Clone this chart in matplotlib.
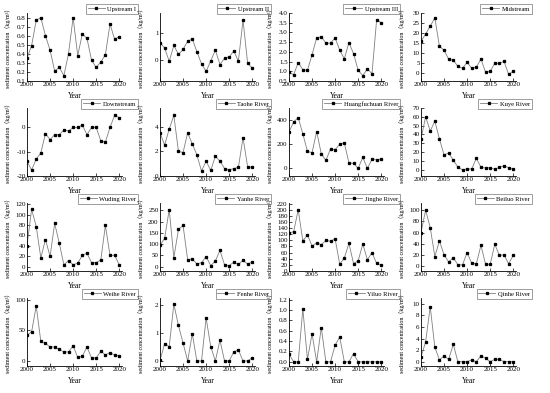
import numpy as np
import matplotlib
matplotlib.use("Agg")
import matplotlib.pyplot as plt
from matplotlib.ticker import FormatStrFormatter

plt.rcParams['font.family'] = ['Liberation Serif', 'Noto Sans CJK SC', 'DejaVu Sans']

years = list(range(2000, 2021))

upstream_1 = [0.35, 0.49, 0.77, 0.80, 0.60, 0.44, 0.21, 0.25, 0.16, 0.40, 0.80,
              0.38, 0.62, 0.57, 0.33, 0.25, 0.31, 0.39, 0.73, 0.56, 0.59]
upstream_2 = [0.65, 0.45, -0.03, 0.55, 0.22, 0.40, 0.70, 0.78, 0.32, -0.12, -0.40,
              -0.02, 0.38, -0.15, 0.08, 0.12, 0.35, -0.03, 1.48, -0.10, -0.28]
upstream_3 = [0.95, 0.82, 1.45, 1.08, 1.05, 1.85, 2.72, 2.78, 2.45, 2.45, 2.72,
              2.08, 1.65, 2.48, 1.90, 1.05, 0.78, 1.12, 0.88, 3.65, 3.50]
midstream = [16, 19.5, 23.5, 27.5, 13.5, 11.5, 7, 6.5, 3.5, 2.5, 5.5,
             2.5, 3, 7.2, 0.5, 1, 5, 5, 6, -0.5, 1]
downstream = [-14, -17.5, -13, -10.5, -2.5, -5, -3, -3, -1, -1.5, 0,
              0, 1, -3, 0, 0, -5.5, -6, 0, 5, 4]
taohe = [3.5, 2.5, 3.8, 4.9, 2.0, 1.9, 3.5, 2.6, 1.7, 0.4, 1.2,
         0.45, 1.6, 1.2, 0.6, 0.5, 0.6, 0.7, 3.1, 0.75, 0.7]
huangfuchuan = [300, 385, 420, 285, 140, 130, 305, 120, 65, 160, 155,
                200, 210, 45, 40, 0, 90, 0, 75, 70, 75]
kuye = [35, 60, 44, 55, 35, 17, 19, 11, 3, 0, 1,
        1, 13, 3, 2, 2.5, 0.5, 3, 4.5, 2.5, 0.5]
wuding = [40, 110, 77, 17, 52, 20, 83, 45, 4, 12, 4,
          7, 22, 26, 8, 8, 13, 79, 22, 22, 4]
yanhe = [95, 125, 253, 40, 165, 183, 30, 35, 12, 18, 45,
         5, 25, 72, 8, 5, 20, 10, 28, 12, 20]
jinghe = [125, 128, 200, 98, 118, 82, 92, 86, 100, 97, 105,
          22, 43, 90, 24, 33, 88, 37, 60, 25, 20]
beiluo = [60, 100, 69, 17, 45, 20, 7, 15, 2, 2, 24,
          5, 4, 37, 3, 3, 39, 19, 20, 4, 19]
weihe = [42, 48, 90, 32, 29, 23, 23, 19, 15, 15, 25,
         6, 8, 23, 5, 5, 16, 10, 14, 10, 8]
fenhe = [0.02, 0.62, 0.52, 2.05, 1.28, 0.65, 0.0, 0.98, 0.0, 0.0, 1.55,
         0.52, 0.0, 0.75, 0.0, 0.0, 0.33, 0.40, 0.0, 0.0, 0.12]
yiluo = [0.15, 0.0, 0.0, 1.02, 0.05, 0.54, 0.0, 0.66, 0.0, 0.0, 0.32,
         0.48, 0.0, 0.0, 0.16, 0.0, 0.0, 0.0, 0.0, 0.0, 0.0]
qinhe = [0.8, 3.4, 9.5, 2.5, 0.3, 1.0, 0.4, 3.0, 0.0, 0.0, 0.0,
         0.3, 0.0, 1.0, 0.6, 0.0, 0.4, 0.4, 0.0, 0.0, 0.0]

names = ['Upstream I', 'Upstream II', 'Upstream III', 'Midstream',
         'Downstream', 'Taohe River', 'Huangfuchuan River', 'Kuye River',
         'Wuding River', 'Yanhe River', 'Jinghe River', 'Beiluo River',
         'Weihe River', 'Fenhe River', 'Yiluo River', 'Qinhe River']
series = [upstream_1, upstream_2, upstream_3, midstream,
          downstream, taohe, huangfuchuan, kuye,
          wuding, yanhe, jinghe, beiluo,
          weihe, fenhe, yiluo, qinhe]

# axis styling per panel: (ylim, yticks, tick format)
styles = [
    ((0.1, 0.85), np.arange(0.1, 0.81, 0.1), '%.1f'),
    ((-0.75, 1.73), [0, 1], '%d'),
    ((0.5, 4.0), np.arange(0.5, 4.01, 0.5), '%.1f'),
    ((-3.8, 30), range(0, 31, 5), '%d'),
    ((-20, 8), [-20, -10, 0], '%d'),
    ((0, 5.5), [0, 2, 4], '%d'),
    ((-64, 500), [0, 200, 400], '%d'),
    ((-7, 70), range(0, 71, 10), '%d'),
    ((-8, 122), range(0, 121, 20), '%d'),
    ((-19, 282), range(0, 251, 50), '%d'),
    ((0, 222), range(0, 221, 20), '%d'),
    ((-9, 113), range(0, 101, 20), '%d'),
    ((-8, 103), [0, 50, 100], '%d'),
    ((-0.18, 2.27), [0, 1, 2], '%d'),
    ((-0.08, 1.23), np.arange(0, 1.21, 0.2), '%.1f'),
    ((-0.75, 11), range(0, 11, 2), '%d'),
]

W, H = 550, 393
fig = plt.figure(figsize=(W / 100, H / 100), dpi=100)

col_left = [27, 160, 289, 421]
row_bottom = [81, 176, 271, 366]
ax_w, ax_h = 95, 68

for i, (name, vals, (ylim, yticks, fmt)) in enumerate(zip(names, series, styles)):
    r, c = divmod(i, 4)
    ax = fig.add_axes([col_left[c] / W, 1 - row_bottom[r] / H, ax_w / W, ax_h / H])
    ax.plot(years, vals, color='#808080', lw=0.6, marker='s', ms=1.4,
            mfc='black', mec='black', label=name)
    ax.set_xlim(2000, 2020.6)
    ax.set_ylim(*ylim)
    ax.set_xticks([2000, 2005, 2010, 2015, 2020])
    ax.set_yticks(list(yticks))
    ax.yaxis.set_major_formatter(FormatStrFormatter(fmt))
    for s in ['top', 'right']:
        ax.spines[s].set_visible(False)
    for s in ['left', 'bottom']:
        ax.spines[s].set_linewidth(0.6)
    ax.tick_params(direction='in', length=2, width=0.5, labelsize=5, pad=1)
    ax.set_xlabel('Year', fontsize=5.5)
    ax.xaxis.set_label_coords(0.5, -0.16)
    ax.set_ylabel('sediment concentration（kg/m³）', fontsize=4.3)
    ax.yaxis.set_label_coords(-0.17, 0.5)
    leg = ax.legend(loc='upper right', bbox_to_anchor=(1.17, 1.13), fontsize=4.7,
                    frameon=True, fancybox=False, handlelength=2.6,
                    borderpad=0.3, handletextpad=0.4, borderaxespad=0)
    leg.get_frame().set_edgecolor('#555555')
    leg.get_frame().set_linewidth(0.5)

fig.savefig('out.png', dpi=100)
